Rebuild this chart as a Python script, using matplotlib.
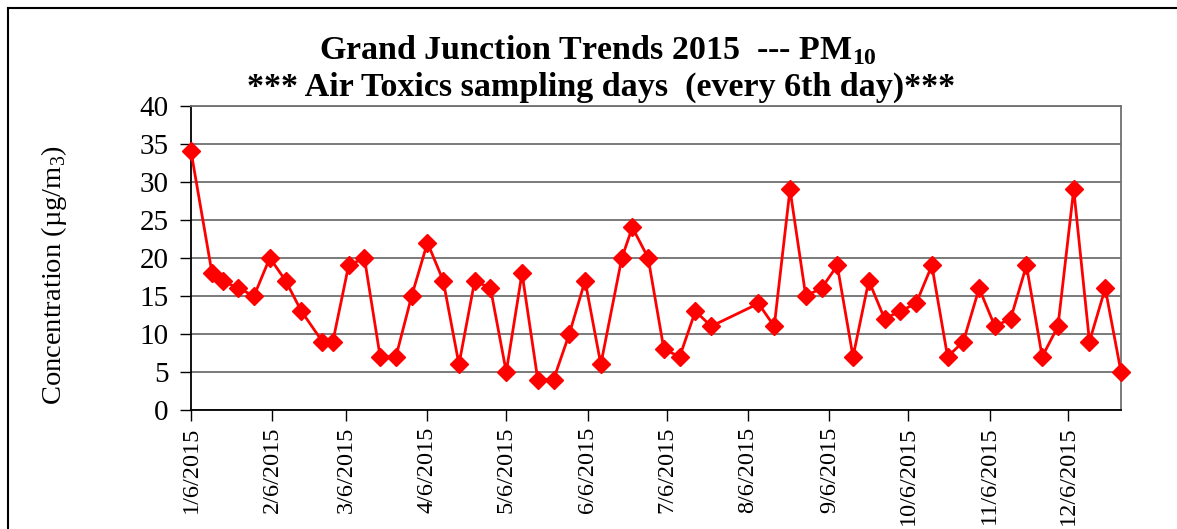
import pandas as pd
import matplotlib.pyplot as plt
import matplotlib.dates as mdates
from matplotlib.lines import Line2D

plt.rcParams['font.family'] = ['Liberation Serif', 'DejaVu Serif']
plt.rcParams['mathtext.fontset'] = 'custom'
plt.rcParams['mathtext.rm'] = 'Liberation Serif'
plt.rcParams['mathtext.bf'] = 'Liberation Serif:bold'

# PM10 samples, Grand Junction 2015
sample_dates = [
    '1/6/2015', '1/14/2015', '1/18/2015', '1/24/2015', '1/30/2015',
    '2/5/2015', '2/11/2015', '2/17/2015', '2/25/2015', '3/1/2015',
    '3/7/2015', '3/13/2015', '3/19/2015', '3/25/2015', '3/31/2015',
    '4/6/2015', '4/12/2015', '4/18/2015', '4/24/2015', '4/30/2015',
    '5/6/2015', '5/12/2015', '5/18/2015', '5/24/2015', '5/30/2015',
    '6/5/2015', '6/11/2015', '6/19/2015', '6/23/2015', '6/29/2015',
    '7/5/2015', '7/11/2015', '7/17/2015', '7/23/2015', '8/10/2015',
    '8/16/2015', '8/22/2015', '8/28/2015', '9/3/2015', '9/9/2015',
    '9/15/2015', '9/21/2015', '9/27/2015', '10/3/2015', '10/9/2015',
    '10/15/2015', '10/21/2015', '10/27/2015', '11/2/2015', '11/8/2015',
    '11/14/2015', '11/20/2015', '11/26/2015', '12/2/2015', '12/8/2015',
    '12/14/2015', '12/20/2015', '12/26/2015',
]
pm10 = [
    34, 18, 17, 16, 15,
    20, 17, 13, 9, 9,
    19, 20, 7, 7, 15,
    22, 17, 6, 17, 16,
    5, 18, 4, 4, 10,
    17, 6, 20, 24, 20,
    8, 7, 13, 11, 14,
    11, 29, 15, 16, 19,
    7, 17, 12, 13, 14,
    19, 7, 9, 16, 11,
    12, 19, 7, 11, 29,
    9, 16, 5,
]
tick_dates = ['1/6/2015', '2/6/2015', '3/6/2015', '4/6/2015', '5/6/2015', '6/6/2015',
              '7/6/2015', '8/6/2015', '9/6/2015', '10/6/2015', '11/6/2015', '12/6/2015']

dates = pd.to_datetime(sample_dates, format='%m/%d/%Y')
ticks = pd.to_datetime(tick_dates, format='%m/%d/%Y')

fig = plt.figure(figsize=(11.77, 5.29), dpi=100)
ax = fig.add_axes([191 / 1177, 1 - 410 / 529, 930 / 1177, 304.3 / 529])

ax.plot(dates, pm10, color='#ff0000', linewidth=2, marker='D', markersize=9,
        markeredgecolor='#ff0000', markerfacecolor='#ff0000', zorder=3,
        clip_on=False)

ax.set_xlim(dates[0], dates[-1])
ax.set_ylim(0, 40)
ax.set_yticks(range(0, 41, 5))
ax.set_xticks(ticks)
ax.xaxis.set_major_formatter(plt.FuncFormatter(
    lambda v, pos: (lambda d: f'{d.month}/{d.day}/{d.year}')(mdates.num2date(v))))
ax.tick_params(axis='x', direction='out', length=8, width=1, labelsize=17.5,
               labelrotation=90, pad=4)
ax.tick_params(axis='y', direction='out', length=8, width=1, labelsize=21, pad=8)

ax.yaxis.grid(True, color='#707070', linewidth=1.3)
ax.set_axisbelow(True)
for side in ['left', 'bottom']:
    ax.spines[side].set_color('black')
    ax.spines[side].set_linewidth(1.3)
for side in ['top', 'right']:
    ax.spines[side].set_color('#707070')
    ax.spines[side].set_linewidth(1.3)

ax.set_ylabel('Concentration (µg/m$_3$)', fontsize=20.5)
ax.yaxis.set_label_coords(-0.131, 0.444)

fig.text(0.508, 0.905, 'Grand Junction Trends 2015  --- PM$_{\\mathbf{10}}$',
         ha='center', va='center', fontsize=24.5, fontweight='bold')
fig.text(0.511, 0.835, '*** Air Toxics sampling days  (every 6th day)***',
         ha='center', va='center', fontsize=24.5, fontweight='bold')

# chart frame: top and left edges
fig.add_artist(Line2D([8 / 1177, 1], [1 - 8 / 529, 1 - 8 / 529], color='black', linewidth=1.5))
fig.add_artist(Line2D([8 / 1177, 8 / 1177], [0, 1 - 8 / 529], color='black', linewidth=1.5))

fig.savefig('out.png', dpi=100)
